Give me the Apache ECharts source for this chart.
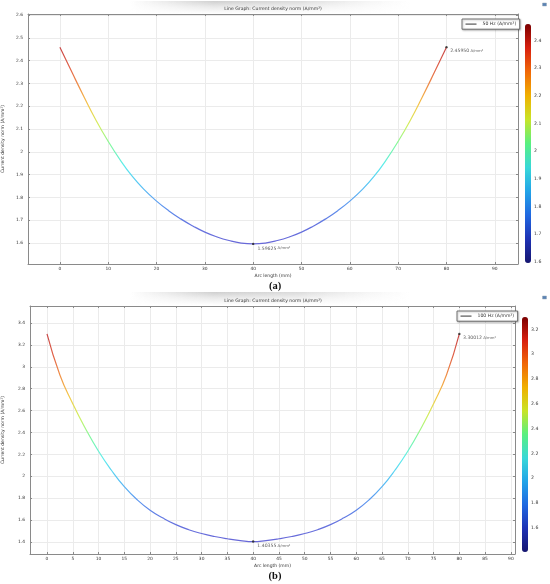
<!DOCTYPE html>
<html><head><meta charset="utf-8">
<script src="https://cdn.jsdelivr.net/npm/echarts@6/dist/echarts.min.js"></script>
<style>html,body{margin:0;padding:0;background:#fff}#c{width:550px;height:584px}</style>
</head><body><div id="c"></div>
<script>
// ---- data ----
const arcLength = [0,2.5,5,7.5,10,12.5,15,17.5,20,22.5,25,27.5,30,32.5,35,37.5,40,42.5,45,47.5,50,52.5,55,57.5,60,62.5,65,67.5,70,72.5,75,77.5,80];
const density50 = [2.4595,2.349,2.241,2.138,2.046,1.964,1.892,1.833,1.784,1.742,1.706,1.675,1.648,1.627,1.611,1.600,1.59625,1.600,1.611,1.627,1.648,1.675,1.706,1.742,1.784,1.833,1.892,1.964,2.046,2.138,2.241,2.349,2.4595];
const density100 = [3.30012,2.925,2.662,2.432,2.228,2.055,1.905,1.785,1.690,1.618,1.558,1.512,1.477,1.450,1.429,1.413,1.40355,1.413,1.429,1.450,1.477,1.512,1.558,1.618,1.690,1.785,1.905,2.055,2.228,2.432,2.662,2.925,3.30012];
const seriesNames = ['50 Hz (A/mm²)', '100 Hz (A/mm²)'];
const captions = ['(a)', '(b)'];
const titleText = 'Line Graph: Current density norm (A/mm²)';
const xName = 'Arc length (mm)';
const yName = 'Current density norm (A/mm²)';
const xRange50 = [-6.6, 94.8], xStep50 = 10;
const yRange50 = [1.508, 2.605], yStep50 = 0.1;
const xRange100 = [-3.3, 90.8], xStep100 = 5;
const yRange100 = [1.29, 3.555], yStep100 = 0.2;

// ---- styling ----
const FONT = 'DejaVu Sans';
const lineColors = ['#6868d8','#6474e0','#5c98f0','#58c4f4','#5cecec','#80f8a0','#d0f060','#f4c848','#f09048','#e06048','#c84848'];
const barColors  = ['#161670','#1e32b4','#2068e0','#22a4e8','#38d8d8','#58f080','#c8e428','#f0b000','#f06808','#d82010','#7c0000'];
const frameColor = '#8a8a8a';
const gridColor = '#ebebeb';

const chart = echarts.init(document.getElementById('c'), null, {renderer: 'canvas'});

const panels = [
  {vals: density50, name: seriesNames[0], xr: xRange50, xs: xStep50, yr: yRange50, ys: yStep50,
   grid: {left: 28, top: 14, width: 490, height: 250},
   cb: {left: 525, top: 24, width: 6, height: 239},
   legend: {left: 462, top: 19}, yGap: 23, xGap: 9, titleY: 9, bandY: 0, caption: captions[0], capY: 286, iconY: 3},
  {vals: density100, name: seriesNames[1], xr: xRange100, xs: xStep100, yr: yRange100, ys: yStep100,
   grid: {left: 30, top: 306, width: 485, height: 248},
   cb: {left: 522, top: 317, width: 6, height: 235},
   legend: {left: 457, top: 311}, yGap: 24.5, xGap: 9, titleY: 301, bandY: 291, caption: captions[1], capY: 576, iconY: 296}
];

const grids = [], xAxes = [], yAxes = [], series = [], visualMaps = [], legends = [], graphics = [];
const tickLabel = {fontSize: 4.4, color: '#333', fontFamily: FONT};

panels.forEach((p, k) => {
  const gi = grids.length;
  grids.push(Object.assign({containLabel: false, outerBoundsMode: 'none'}, p.grid));
  const xi = xAxes.length, yi = yAxes.length;
  const common = {gridIndex: gi, type: 'value'};
  xAxes.push(Object.assign({}, common, {
    min: p.xr[0], max: p.xr[1], minInterval: p.xs, maxInterval: p.xs, splitNumber: 10,
    name: xName, nameLocation: 'middle', nameGap: p.xGap,
    nameTextStyle: {fontSize: 4.5, color: '#333', fontFamily: FONT},
    axisLine: {show: true, onZero: false, lineStyle: {color: frameColor, width: 1}},
    axisTick: {show: true, inside: true, length: 2, lineStyle: {color: frameColor}},
    axisLabel: {show: true, margin: 3, showMinLabel: false, showMaxLabel: false, ...tickLabel},
    splitLine: {show: true, lineStyle: {color: gridColor, width: 1}}
  }));
  xAxes.push(Object.assign({}, common, {
    position: 'top', min: p.xr[0], max: p.xr[1], minInterval: p.xs, maxInterval: p.xs, splitNumber: 10,
    axisLine: {show: true, onZero: false, lineStyle: {color: frameColor, width: 1}},
    axisTick: {show: true, inside: true, length: 2, lineStyle: {color: frameColor}},
    axisLabel: {show: false}, splitLine: {show: false}
  }));
  yAxes.push(Object.assign({}, common, {
    min: p.yr[0], max: p.yr[1], minInterval: p.ys, maxInterval: p.ys, splitNumber: 10,
    name: yName, nameLocation: 'middle', nameGap: p.yGap,
    nameTextStyle: {fontSize: 4.5, color: '#333', fontFamily: FONT},
    axisLine: {show: true, onZero: false, lineStyle: {color: frameColor, width: 1}},
    axisTick: {show: true, inside: true, length: 2, lineStyle: {color: frameColor}},
    axisLabel: {show: true, margin: 5, showMinLabel: false, showMaxLabel: false, ...tickLabel},
    splitLine: {show: true, lineStyle: {color: gridColor, width: 1}}
  }));
  yAxes.push(Object.assign({}, common, {
    position: 'right', min: p.yr[0], max: p.yr[1], minInterval: p.ys, maxInterval: p.ys, splitNumber: 10,
    axisLine: {show: true, onZero: false, lineStyle: {color: frameColor, width: 1}},
    axisTick: {show: true, inside: true, length: 2, lineStyle: {color: frameColor}},
    axisLabel: {show: false}, splitLine: {show: false}
  }));

  const vals = p.vals;
  const vmin = Math.min(...vals), vmax = Math.max(...vals);
  const iMin = vals.indexOf(vmin), iEnd = vals.length - 1;

  const si = series.length;
  series.push({
    type: 'line', name: p.name, xAxisIndex: xi, yAxisIndex: yi,
    data: arcLength.map((x, i) => [x, vals[i]]),
    smooth: 0.5, symbol: 'none', lineStyle: {width: 1.2}, itemStyle: {color: '#444'},
    silent: true, animation: false, z: 3
  });
  const lbl = (v) => '{v|' + v.toFixed(5) + '}{u| A/mm²}';
  const rich = {v: {fontSize: 4.6, color: '#333', fontFamily: FONT}, u: {fontSize: 3.8, color: '#333', fontFamily: FONT}};
  series.push({
    type: 'scatter', xAxisIndex: xi, yAxisIndex: yi, symbolSize: 2.4,
    itemStyle: {color: '#222'}, silent: true, animation: false, z: 4,
    data: [
      {value: [arcLength[iEnd], vals[iEnd]], label: {show: true, position: 'right', distance: 2.5, offset: [0, 4], formatter: lbl(vals[iEnd]), rich}},
      {value: [arcLength[iMin], vals[iMin]], label: {show: true, position: 'right', distance: 3, offset: [0, 4.5], formatter: lbl(vals[iMin]), rich}}
    ]
  });
  visualMaps.push({
    type: 'continuous', show: false, seriesIndex: si, dimension: 1,
    min: vmin, max: vmax, inRange: {color: lineColors}
  });

  // colorbar: visualMap bar + helper axis for tick labels
  const cgi = grids.length;
  grids.push(Object.assign({outerBoundsMode: 'none'}, p.cb));
  const cxi = xAxes.length, cyi = yAxes.length;
  xAxes.push({gridIndex: cgi, type: 'value', show: false, min: 0, max: 1});
  yAxes.push({gridIndex: cgi, type: 'value', position: 'right', min: vmin, max: vmax,
    minInterval: p.ys, maxInterval: p.ys, splitNumber: 10,
    axisLine: {show: false}, axisTick: {show: false}, splitLine: {show: false},
    axisLabel: {show: true, margin: 3, showMinLabel: false, showMaxLabel: false, fontSize: 4.6, color: '#333', fontFamily: FONT}});
  const dsi = series.length;
  series.push({type: 'line', xAxisIndex: cxi, yAxisIndex: cyi, data: [], silent: true});
  visualMaps.push({
    type: 'continuous', show: true, seriesIndex: dsi, min: vmin, max: vmax,
    left: p.cb.left, top: p.cb.top, itemWidth: p.cb.width, itemHeight: p.cb.height,
    padding: 0, calculable: false, text: null, showLabel: false, realtime: false, hoverLink: false,
    inRange: {color: barColors}, textStyle: {fontSize: 0}
  });

  legends.push({
    data: [{name: p.name, icon: 'rect', itemStyle: {color: '#555'}}],
    left: p.legend.left, top: p.legend.top, orient: 'horizontal',
    itemWidth: 11, itemHeight: 1.2, itemGap: 4,
    padding: [2.6, 3.5, 2.6, 3.5], backgroundColor: '#fff',
    borderColor: '#555', borderWidth: 0.8,
    shadowColor: 'rgba(0,0,0,0.35)', shadowBlur: 2, shadowOffsetX: 0.8, shadowOffsetY: 0.8,
    textStyle: {fontSize: 4.6, color: '#333', fontFamily: FONT, padding: [0, 0, 0, 1]},
    selectedMode: false
  });

  // header shading band behind the plot title
  graphics.push({type: 'rect', z: 0, silent: true,
    shape: {x: 130, y: p.bandY + 1, width: 280, height: 13},
    style: {fill: new echarts.graphic.LinearGradient(0, 0, 1, 0, [
      {offset: 0, color: 'rgba(205,205,205,0)'},
      {offset: 0.3, color: 'rgba(205,205,205,0.95)'},
      {offset: 0.6, color: 'rgba(215,215,215,0.9)'},
      {offset: 1, color: 'rgba(230,230,230,0)'}])}});
  graphics.push({type: 'rect', z: 1, silent: true,
    shape: {x: 130, y: p.bandY + 1, width: 280, height: 13},
    style: {fill: new echarts.graphic.LinearGradient(0, 0, 0, 1, [
      {offset: 0, color: 'rgba(255,255,255,0)'},
      {offset: 0.45, color: 'rgba(255,255,255,0.55)'},
      {offset: 1, color: 'rgba(255,255,255,1)'}])}});
  graphics.push({type: 'text', z: 5, silent: true,
    style: {text: titleText, x: 273, y: p.titleY, align: 'center', verticalAlign: 'middle',
      fontSize: 4.6, fontFamily: FONT, fill: '#333'}});
  graphics.push({type: 'text', z: 5, silent: true,
    style: {text: p.caption, x: 275, y: p.capY, align: 'center', verticalAlign: 'middle',
      fontSize: 10.5, fontWeight: 'bold', fontFamily: 'Liberation Serif', fill: '#111'}});
  graphics.push({type: 'rect', z: 5, silent: true,
    shape: {x: 542.5, y: p.iconY, width: 4, height: 3},
    style: {fill: '#5a82b4', stroke: '#9ab', lineWidth: 0.5}});
});

chart.setOption({
  animation: false,
  grid: grids, xAxis: xAxes, yAxis: yAxes,
  series: series, visualMap: visualMaps, legend: legends,
  graphic: graphics
});
</script></body></html>
